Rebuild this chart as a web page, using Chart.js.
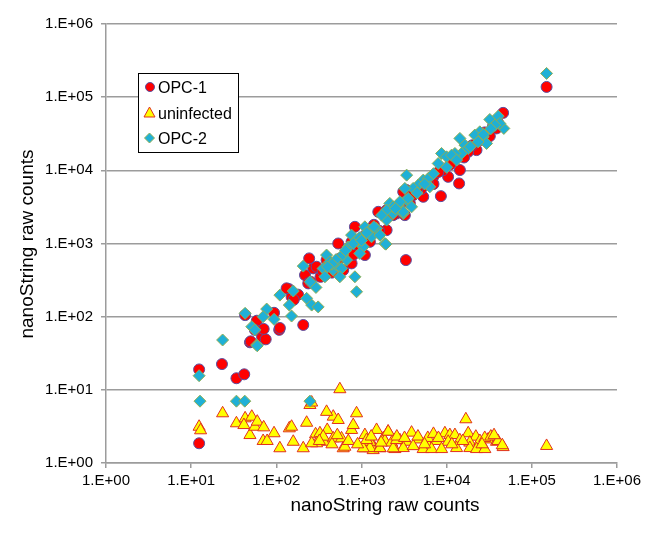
<!DOCTYPE html>
<html lang="en">
<head>
  <meta charset="UTF-8">
  <title>nanoString raw counts</title>
  <script src="https://cdn.jsdelivr.net/npm/chart.js"></script>
  <style>
    * {
      margin: 0;
      padding: 0;
      box-sizing: border-box;
    }

    body {
      background: #fff;
      width: 658px;
      height: 533px;
      overflow: hidden;
    }
  </style>
</head>
<body>
  <canvas id="scatterChart" width="658" height="533"></canvas>

  <script>
    // axis ticks (log scale, powers of ten only)
    const tickValues = [1, 10, 100, 1000, 10000, 100000, 1000000];
    const tickLabels = ['1.E+00', '1.E+01', '1.E+02', '1.E+03', '1.E+04', '1.E+05', '1.E+06'];

    const seriesNames = ['OPC-1', 'uninfected', 'OPC-2'];

    // OPC-1 (red circles)
    const opc1X = [12.4, 23, 34, 42, 12.4, 49, 68, 75, 108, 43, 59, 50, 71, 94, 110, 207, 56, 141, 151, 217,
      237, 243, 253, 271, 132, 533, 389, 765, 1096, 610, 837, 765, 1574, 1972, 1256, 3320, 2570, 3390,
      46000, 38500, 32100, 22400, 17900, 14300, 10400, 14000, 8550, 6950, 5310, 4040, 2350, 3230, 1970,
      149000, 3090, 3700, 297, 372, 450, 700, 1000, 1400, 2000, 2800, 5000, 7000, 9000, 12000, 20000,
      28000, 40000, 600, 900, 1200, 330,
      180, 160, 350, 550, 800, 1100, 1600, 2200, 3500, 4500, 6000, 8000, 11000, 16000, 25000, 35000];
    const opc1Y = [19, 22.5, 14.4, 16.3, 1.86, 44.6, 53, 49, 66, 105, 88, 46, 68, 113, 70, 77, 66, 238, 187, 370,
      285, 626, 300, 457, 244, 1000, 593, 535, 695, 433, 1690, 1055, 2710, 1524, 1055, 593, 2570, 5370,
      61000, 37400, 29300, 18900, 17900, 10100, 8150, 6620, 4440, 8150, 4350, 4580, 2440, 2440, 2860,
      138000, 5080, 3520, 481, 370, 400, 800, 1200, 1800, 2300, 3000, 5500, 6500, 10000, 14000, 22000,
      33000, 45000, 650, 950, 1400, 350,
      200, 170, 420, 620, 700, 1300, 1500, 2800, 4000, 5200, 6800, 9500, 12000, 15000, 26000, 40000];

    // uninfected (yellow triangles)
    const uninfX = [557, 248, 260, 12.4, 12.9, 23.4, 34, 43, 41.6, 51.5, 49, 56, 59.7, 71, 70, 78, 94, 110, 142,
      151, 158, 207, 227, 289, 325, 382, 396, 466, 533, 389, 466, 583, 610, 297, 260, 765, 800, 875, 1096,
      1256, 1503, 1800, 1096, 1370, 1650, 16800, 149000, 2050, 3870, 9530, 10900, 12500, 17900, 22000,
      1256, 1882, 2256, 2824, 3381, 4634, 5805, 7605, 10420, 14290, 18710, 24550, 30700, 38500,
      1256, 1644, 2466, 3090, 4044, 5300, 6650, 8710, 13070, 18710, 22440, 28060, 46000,
      355, 638, 1047, 1148, 2057, 2355, 2582, 4600, 6000, 7000, 28000, 33000, 40000, 45000,
      320, 450, 520, 700, 900, 1300, 1700, 2600, 3200, 5500, 8000, 11500, 15500, 26000, 36000];
    const uninfY = [10.2, 6.2, 6.7, 3.13, 2.8, 4.78, 3.49, 4.08, 3.3, 4.29, 2.41, 3.13, 3.67, 3.07, 2.0, 2.0, 2.55,
      1.59, 2.98, 3.13, 1.95, 1.59, 3.55, 2.47, 2.55, 1.95, 2.83, 4.3, 3.87, 5.0, 2.17, 2.17, 1.59, 1.86,
      1.86, 2.83, 3.3, 4.78, 2.41, 2.06, 2.83, 2.17, 1.59, 1.5, 1.59, 3.96, 1.71, 2.68, 2.6, 2.55, 2.41,
      2.41, 2.55, 2.29,
      1.95, 2.0, 1.9, 2.05, 1.95, 2.1, 1.9, 2.0, 1.95, 2.05, 1.9, 2.0, 2.1, 1.95,
      1.6, 1.6, 1.55, 1.6, 1.7, 1.55, 1.55, 1.55, 1.6, 1.6, 1.55, 1.55, 1.65,
      2.29, 1.67, 1.59, 2.06, 2.68, 1.59, 2.06, 2.3, 2.2, 2.5, 2.2, 2.3, 2.0, 1.75,
      2.0, 1.8, 2.4, 2.0, 1.8, 2.3, 1.9, 2.3, 2.2, 1.8, 2.2, 1.8, 2.0, 1.8, 2.4];

    // OPC-2 (cyan diamonds)
    const opc2X = [12.4, 12.7, 23.4, 34, 42.6, 58.7, 248, 43, 51.5, 56, 59.7, 77, 70, 94, 110, 142, 151, 158,
      227, 207, 260, 310, 292, 389, 426, 355, 466, 372, 510, 583, 557, 668, 837, 875, 765, 875, 1047, 955,
      1096, 1256, 1503, 1313, 1644, 1882, 1972, 2350, 2150, 2690, 3090, 3390, 1930, 40300, 32100, 46900,
      42100, 36800, 24500, 21400, 26800, 29400, 23400, 14300, 16400, 17900, 14900, 12500, 8710, 9970,
      11400, 7950, 13100, 3390, 5310, 6070, 4630, 6350, 4040, 3230, 3530, 3870, 2820, 2350, 3090, 1970,
      1720, 149000, 600, 700, 800, 950, 1150, 500, 450,
      250, 400, 650, 1000, 1400, 2500, 4500, 5500, 7000, 10000, 19000, 27000, 33000];
    const opc2Y = [15.6, 7.0, 48, 7.0, 7.0, 41, 7.0, 111, 73, 66, 40, 127, 100, 92, 197, 144, 102, 224,
      178, 491, 144, 136, 251, 695, 563, 457, 433, 351, 507, 457, 351, 593, 351, 219, 1302, 1113, 901, 731,
      1690, 1524, 1607, 1236, 1302, 1000, 2090, 2570, 3530, 3350, 2570, 3920, 980, 55000, 49500, 37400,
      43700, 41400, 33600, 30300, 28700, 23300, 24500, 27300, 22100, 19900, 17000, 17000, 17000, 15300,
      16100, 12400, 13800, 8600, 7350, 7740, 6280, 5960, 5660, 5660, 4130, 3170, 3710, 3170, 2710, 2860,
      2440, 211000, 700, 900, 1000, 1200, 1400, 600, 520,
      300, 480, 800, 1100, 1700, 3000, 4900, 6500, 9000, 11000, 21000, 31000, 37000];

    const toPoints = (xs, ys) => xs.map((x, i) => ({ x: x, y: ys[i] }));

    const fontFamily = '"Liberation Sans", Arial, sans-serif';
    const gridColor = '#9c9c9c';

    // legend box + axis titles drawn on top of the chart
    const overlayPlugin = {
      id: 'overlay',
      afterDraw(chart) {
        const c = chart.ctx;
        c.save();

        // legend
        c.fillStyle = '#fff';
        c.fillRect(138, 73, 100, 79);
        c.strokeStyle = '#000';
        c.lineWidth = 1;
        c.strokeRect(138.5, 73.5, 100, 79);

        const rows = [87, 112.5, 138];

        // circle
        c.beginPath();
        c.arc(150, rows[0], 4.5, 0, Math.PI * 2);
        c.fillStyle = '#ff0000';
        c.fill();
        c.strokeStyle = '#5a4fa0';
        c.stroke();

        // triangle
        c.beginPath();
        c.moveTo(149.5, rows[1] - 5.5);
        c.lineTo(155, rows[1] + 4.5);
        c.lineTo(144, rows[1] + 4.5);
        c.closePath();
        c.fillStyle = '#ffff00';
        c.fill();
        c.strokeStyle = '#e0301e';
        c.stroke();

        // diamond
        c.beginPath();
        c.moveTo(149.5, rows[2] - 5);
        c.lineTo(154.5, rows[2]);
        c.lineTo(149.5, rows[2] + 5);
        c.lineTo(144.5, rows[2]);
        c.closePath();
        c.fillStyle = '#1fb0d6';
        c.fill();
        c.strokeStyle = '#8fae55';
        c.stroke();

        c.fillStyle = '#000';
        c.font = '16px ' + fontFamily;
        c.textAlign = 'left';
        c.textBaseline = 'alphabetic';
        seriesNames.forEach((name, i) => c.fillText(name, 158, rows[i] + 6));

        // axis titles
        c.font = '19px ' + fontFamily;
        c.textAlign = 'center';
        c.fillText('nanoString raw counts', 385, 511);

        c.translate(33, 244);
        c.rotate(-Math.PI / 2);
        c.fillText('nanoString raw counts', 0, 0);

        c.restore();
      }
    };

    const tickCallback = (v) => {
      const i = tickValues.indexOf(v);
      return i >= 0 ? tickLabels[i] : '';
    };

    const logAxis = (extra) => Object.assign({
      type: 'logarithmic',
      min: 1,
      max: 1000000,
      afterBuildTicks: (axis) => {
        axis.ticks = tickValues.map(v => ({ value: v }));
      },
      border: { display: true, color: gridColor, width: 1.5 }
    }, extra);

    new Chart(document.getElementById('scatterChart'), {
      type: 'scatter',
      data: {
        datasets: [
          {
            label: seriesNames[0],
            data: toPoints(opc1X, opc1Y),
            pointStyle: 'circle',
            pointRadius: 5.5,
            backgroundColor: '#ff0000',
            borderColor: '#5a4fa0',
            borderWidth: 1,
            order: 2
          },
          {
            label: seriesNames[1],
            data: toPoints(uninfX, uninfY),
            pointStyle: 'triangle',
            pointRadius: 7,
            backgroundColor: '#ffff00',
            borderColor: '#e0301e',
            borderWidth: 1,
            order: 1
          },
          {
            label: seriesNames[2],
            data: toPoints(opc2X, opc2Y),
            pointStyle: 'rectRot',
            pointRadius: 6,
            backgroundColor: '#1fb0d6',
            borderColor: '#8fae55',
            borderWidth: 1,
            order: 0
          }
        ]
      },
      options: {
        responsive: false,
        animation: false,
        layout: { padding: { top: 24, right: 41, left: 0, bottom: 0 } },
        plugins: {
          legend: { display: false },
          tooltip: { enabled: false }
        },
        scales: {
          x: logAxis({
            afterFit: (axis) => { axis.height = 70; },
            grid: { drawOnChartArea: false, drawTicks: true, tickLength: 5, color: gridColor, lineWidth: 1.5 },
            ticks: {
              autoSkip: false,
              maxRotation: 0,
              padding: 4,
              color: '#000',
              font: { family: fontFamily, size: 15 },
              callback: tickCallback
            }
          }),
          y: logAxis({
            afterFit: (axis) => { axis.width = 106; },
            grid: { drawOnChartArea: true, drawTicks: true, tickLength: 5, color: gridColor, lineWidth: 1.5 },
            ticks: {
              autoSkip: false,
              padding: 8,
              color: '#000',
              font: { family: fontFamily, size: 15 },
              callback: tickCallback
            }
          })
        }
      },
      plugins: [overlayPlugin]
    });
  </script>
</body>
</html>
